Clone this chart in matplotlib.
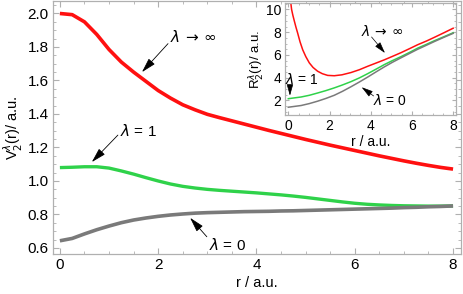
import numpy as np
import matplotlib
matplotlib.use("Agg")
import matplotlib.pyplot as plt
from matplotlib.ticker import MultipleLocator

plt.rcParams['font.family'] = ['Liberation Sans', 'DejaVu Sans']
plt.rcParams['mathtext.fontset'] = 'dejavusans'

# main panel: V_2^lambda(r)
r = np.arange(0, 8.01, 0.25)
v_inf = [2.000, 1.993, 1.950, 1.875, 1.785, 1.710, 1.650, 1.595, 1.540,
         1.495, 1.455, 1.425, 1.398, 1.378, 1.359, 1.340, 1.321, 1.302,
         1.284, 1.266, 1.248, 1.231, 1.214, 1.198, 1.182, 1.166, 1.150,
         1.135, 1.120, 1.106, 1.093, 1.081, 1.071]
v_one = [1.080, 1.082, 1.085, 1.085, 1.077, 1.060, 1.041, 1.020, 1.000,
         0.982, 0.968, 0.958, 0.950, 0.944, 0.939, 0.934, 0.929, 0.923,
         0.917, 0.910, 0.902, 0.893, 0.884, 0.875, 0.867, 0.861, 0.857,
         0.854, 0.852, 0.851, 0.850, 0.850, 0.851]
v_zero = [0.643, 0.657, 0.684, 0.709, 0.731, 0.751, 0.767, 0.779, 0.789,
          0.797, 0.803, 0.808, 0.811, 0.813, 0.815, 0.817, 0.818, 0.819,
          0.821, 0.822, 0.824, 0.826, 0.828, 0.830, 0.832, 0.834, 0.836,
          0.838, 0.841, 0.843, 0.846, 0.848, 0.851]

# inset: R_2^lambda(r)
ri = [0.12, 0.16, 0.22, 0.29, 0.37, 0.45, 0.57, 0.7, 0.85, 1.02, 1.2,
      1.42, 1.65, 1.91, 2.23, 2.6, 3.04, 3.45, 3.85, 4.25, 4.66, 5.05,
      5.47, 5.88, 6.28, 6.7, 7.09, 7.55, 8.0]
R_inf = [10.6, 10.0, 9.5, 9.0, 8.45, 7.95, 7.15, 6.45, 5.85, 5.3, 4.9,
         4.57, 4.35, 4.2, 4.17, 4.25, 4.45, 4.7, 5.0, 5.28, 5.57, 5.87,
         6.2, 6.55, 6.9, 7.22, 7.55, 7.95, 8.35]
rg = [0.0, 0.62, 1.02, 1.42, 1.82, 2.23, 2.63, 3.04, 3.45, 3.85, 4.25,
      4.66, 5.05, 5.47, 5.88, 6.28, 6.7, 7.09, 7.55, 8.0]
R_one = [2.15, 2.3, 2.45, 2.65, 2.86, 3.1, 3.36, 3.65, 3.98, 4.35, 4.74,
         5.15, 5.5, 5.85, 6.22, 6.6, 6.93, 7.25, 7.6, 7.95]
R_zero = [1.4, 1.55, 1.72, 1.93, 2.17, 2.45, 2.8, 3.2, 3.62, 4.05, 4.5,
          4.95, 5.35, 5.75, 6.13, 6.5, 6.85, 7.18, 7.55, 7.9]

red = '#ff1010'
green = '#2fd24a'
grey = '#7a7a7a'
frame = '#b0b0b0'


def style(ax, fs):
    for s in ax.spines.values():
        s.set_color(frame)
        s.set_linewidth(0.9)
    ax.tick_params(which='both', direction='in', top=True, right=True,
                   color=frame, labelsize=fs, pad=3)
    ax.tick_params(which='major', length=4)
    ax.tick_params(which='minor', length=2)


fig = plt.figure(figsize=(4.63, 2.94), dpi=100)
ax = fig.add_axes([0.1145, 0.136, 0.881, 0.862])
ax.plot(r, v_inf, color=red, lw=2.6, solid_capstyle='butt')
ax.plot(r, v_one, color=green, lw=2.4, solid_capstyle='butt')
ax.plot(r, v_zero, color=grey, lw=2.6, solid_capstyle='butt')
ax.set_xlim(-0.14, 8.16)
ax.set_ylim(0.564, 2.077)
ax.xaxis.set_major_locator(MultipleLocator(2))
ax.xaxis.set_minor_locator(MultipleLocator(0.5))
ax.yaxis.set_major_locator(MultipleLocator(0.2))
ax.yaxis.set_minor_locator(MultipleLocator(0.05))
ax.yaxis.set_major_formatter(matplotlib.ticker.FormatStrFormatter('%.1f'))
style(ax, 11)
ax.set_xlabel('r / a.u.', fontsize=10.5, labelpad=3)
ax.set_ylabel(r'V$_2^{\lambda}$(r)/ a.u.', fontsize=10.5, labelpad=2)

arr = dict(arrowstyle='-|>,head_length=0.9,head_width=0.25', color='k',
           lw=0.6, shrinkA=0, shrinkB=0)
ax.annotate('', xy=(1.67, 1.65), xytext=(2.2, 1.82), arrowprops=arr)
ax.text(2.71, 1.857, r'$\lambda\,\rightarrow\,\infty$', fontsize=11,
        ha='center', va='center')
ax.annotate('', xy=(0.65, 1.113), xytext=(1.18, 1.274), arrowprops=arr)
ax.text(1.6, 1.30, r'$\lambda$ = 1', fontsize=11, ha='center', va='center')
ax.annotate('', xy=(2.65, 0.78), xytext=(2.99, 0.667), arrowprops=arr)
ax.text(3.42, 0.619, r'$\lambda$ = 0', fontsize=11, ha='center', va='center')

# inset
ins = fig.add_axes([0.616, 0.609, 0.369, 0.382])
ins.set_facecolor('white')
ins.plot(ri, R_inf, color=red, lw=1.1)
ins.plot(rg, R_one, color=green, lw=1.1)
ins.plot(rg, R_zero, color=grey, lw=1.1)
ins.set_xlim(-0.15, 8.14)
ins.set_ylim(0.72, 10.6)
ins.xaxis.set_major_locator(MultipleLocator(2))
ins.xaxis.set_minor_locator(MultipleLocator(0.5))
ins.yaxis.set_major_locator(MultipleLocator(2))
ins.yaxis.set_minor_locator(MultipleLocator(0.5))
style(ins, 10)
ins.tick_params(which='major', length=3)
ins.tick_params(which='minor', length=1.5)
ins.set_xlabel('r / a.u.', fontsize=10, labelpad=1)
ins.set_ylabel(r'R$_2^{\lambda}$(r)/ a.u.', fontsize=9.5, labelpad=0)

arr2 = dict(arrowstyle='-|>,head_length=0.7,head_width=0.2', color='k',
            lw=0.5, shrinkA=0, shrinkB=0)
ins.annotate('', xy=(4.69, 6.17), xytext=(4.04, 7.58), arrowprops=arr2)
ins.text(4.55, 8.05, r'$\lambda\,\rightarrow\,\infty$', fontsize=10,
         ha='center', va='center')
ins.annotate('', xy=(0.08, 2.42), xytext=(0.08, 3.36), arrowprops=arr2)
ins.text(0.68, 3.8, r'$\lambda$ = 1', fontsize=10, ha='center', va='center')
ins.annotate('', xy=(3.56, 3.16), xytext=(4.14, 2.39), arrowprops=arr2)
ins.text(4.95, 1.95, r'$\lambda$ = 0', fontsize=10, ha='center', va='center')

fig.savefig('out.png', dpi=100)
